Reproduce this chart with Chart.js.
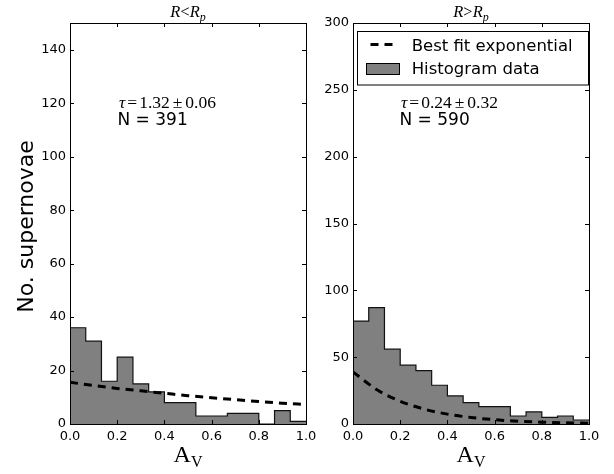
<!DOCTYPE html>
<html>
<head>
<meta charset="utf-8">
<script src="https://cdn.jsdelivr.net/npm/chart.js@4.4.1/dist/chart.umd.min.js"></script>
<style>
  body { margin: 0; background: #fff; }
  #wrap { position: relative; width: 614px; height: 474px; overflow: hidden; }
  canvas { position: absolute; top: 0; }
  #left { left: 0; }
  #right { left: 300px; }
</style>
</head>
<body>
<div id="wrap">
  <canvas id="left" width="330" height="474"></canvas>
  <canvas id="right" width="314" height="474"></canvas>
</div>
<script>
'use strict';
// histogram bins (A_V), 15 bins between 0 and 1
const binEdges = [0, 0.0667, 0.1333, 0.2, 0.2667, 0.3333, 0.4, 0.4667, 0.5333, 0.6, 0.6667, 0.7333, 0.8, 0.8667, 0.9333, 1.0];
const countsInner = [36, 31, 16, 25, 15, 12, 8, 8, 3, 3, 4, 4, 0, 5, 1];
const countsOuter = [77, 87, 56, 44, 40, 29, 21, 16, 13, 13, 6, 9, 5, 6, 3];

// best fit exponential
const fitX = [0, 0.1, 0.2, 0.3, 0.4, 0.5, 0.6, 0.7, 0.8, 0.9, 1.0];
const fitInner = [15.6, 14.4, 13.3, 12.4, 11.5, 10.6, 9.8, 9.1, 8.4, 7.8, 7.3];
const fitOuter = [39, 25.8, 17, 11.2, 7.4, 4.9, 3.2, 2.1, 1.4, 0.9, 0.6];

const xTicks = [0, 0.2, 0.4, 0.6, 0.8, 1.0];
const yTicksInner = [0, 20, 40, 60, 80, 100, 120, 140];
const yTicksOuter = [0, 50, 100, 150, 200, 250, 300];

const SANS = '"DejaVu Sans", sans-serif';
const SERIF = '"Liberation Serif", serif';
const GRAY = '#808080';

function stepPoints(counts) {
  let pts = [];
  for (let i = 0; i < counts.length; i++) {
    pts.push({x: binEdges[i], y: counts[i]});
  }
  pts.push({x: binEdges[binEdges.length - 1], y: counts[counts.length - 1]});
  return pts;
}

// draws a row of text pieces, each with its own font and vertical shift
function drawRuns(ctx, x, y, runs, align) {
  let total = 0;
  for (let r of runs) {
    ctx.font = r.font;
    r.w = ctx.measureText(r.t).width;
    total += r.w + (r.gap || 0);
  }
  let cx = align === 'center' ? x - total / 2 : x;
  ctx.textAlign = 'left';
  ctx.textBaseline = 'alphabetic';
  for (let r of runs) {
    cx += (r.gap || 0);
    ctx.font = r.font;
    ctx.fillText(r.t, cx, y + (r.dy || 0));
    cx += r.w;
  }
}

function decorPlugin(cfg) {
  return {
    id: 'decor',
    afterDraw(chart) {
      const ctx = chart.ctx;
      const a = chart.chartArea;
      const xs = chart.scales.x;
      const ys = chart.scales.y;
      ctx.save();
      ctx.strokeStyle = '#000';
      ctx.fillStyle = '#000';
      ctx.lineWidth = 1;
      ctx.beginPath();
      for (let t of xs.ticks) {
        let px = Math.round(xs.getPixelForValue(t.value)) + 0.5;
        ctx.moveTo(px, a.bottom); ctx.lineTo(px, a.bottom - 4);
        ctx.moveTo(px, a.top); ctx.lineTo(px, a.top + 4);
      }
      for (let t of ys.ticks) {
        let py = Math.round(ys.getPixelForValue(t.value)) + 0.5;
        ctx.moveTo(a.left, py); ctx.lineTo(a.left + 4, py);
        ctx.moveTo(a.right, py); ctx.lineTo(a.right - 4, py);
      }
      ctx.stroke();
      ctx.strokeRect(Math.round(a.left) + 0.5, Math.round(a.top) + 0.5,
        Math.round(a.right - a.left), Math.round(a.bottom - a.top));

      const mid = (a.left + a.right) / 2;
      // panel title
      drawRuns(ctx, mid, 17, [
        {t: 'R', font: 'italic 16.5px ' + SERIF},
        {t: cfg.rel, font: '16.5px ' + SERIF},
        {t: 'R', font: 'italic 16.5px ' + SERIF},
        {t: 'p', font: 'italic 12px ' + SERIF, dy: 3.5}
      ], 'center');
      // x axis label
      drawRuns(ctx, mid, 462, [
        {t: 'A', font: '24px ' + SERIF},
        {t: 'V', font: '16px ' + SERIF, dy: 5}
      ], 'center');
      // fit annotation
      drawRuns(ctx, cfg.textX, 107.5, [
        {t: 'τ', font: 'italic 17.5px ' + SERIF},
        {t: '=', font: '17.5px ' + SERIF, gap: 2},
        {t: cfg.tau, font: '17.5px ' + SERIF, gap: 2},
        {t: '±', font: '17.5px ' + SERIF, gap: 3},
        {t: cfg.err, font: '17.5px ' + SERIF, gap: 3}
      ]);
      ctx.font = '17px ' + SANS;
      ctx.fillText(cfg.n, cfg.textX - 1.5, 124.5);

      if (cfg.yLabel) {
        ctx.save();
        ctx.translate(33, 226.5);
        ctx.rotate(-Math.PI / 2);
        ctx.font = '22px ' + SANS;
        ctx.textAlign = 'center';
        ctx.fillText(cfg.yLabel, 0, 0);
        ctx.restore();
      }

      if (cfg.legend) {
        ctx.fillStyle = '#fff';
        ctx.fillRect(57.5, 31.5, 231, 53.5);
        ctx.strokeRect(57.5, 31.5, 231, 53.5);
        ctx.lineWidth = 3;
        ctx.setLineDash([8, 6]);
        ctx.beginPath();
        ctx.moveTo(70.5, 44.5); ctx.lineTo(92.5, 44.5);
        ctx.stroke();
        ctx.setLineDash([]);
        ctx.lineWidth = 1;
        ctx.fillStyle = GRAY;
        ctx.fillRect(66.5, 63.5, 33, 11);
        ctx.strokeRect(66.5, 63.5, 33, 11);
        ctx.fillStyle = '#000';
        ctx.font = '16.5px ' + SANS;
        ctx.textAlign = 'left';
        ctx.fillText('Best fit exponential', 111.7, 50.7);
        ctx.fillText('Histogram data', 111.7, 74.3);
      }
      ctx.restore();
    }
  };
}

function makePanel(canvasId, counts, fit, yMax, yTicks, yWidth, padRight, cfg) {
  const tickFont = {family: SANS, size: 13};
  return new Chart(document.getElementById(canvasId), {
    type: 'line',
    data: {
      datasets: [
        {
          data: fitX.map((x, i) => ({x: x, y: fit[i]})),
          borderColor: '#000',
          borderWidth: 3,
          borderDash: [8, 6],
          pointRadius: 0,
          cubicInterpolationMode: 'monotone',
          fill: false,
          order: 0
        },
        {
          data: stepPoints(counts),
          stepped: 'before',
          borderColor: '#111',
          borderWidth: 1.2,
          backgroundColor: GRAY,
          pointRadius: 0,
          fill: 'origin',
          order: 1
        }
      ]
    },
    options: {
      responsive: false,
      animation: false,
      devicePixelRatio: 1,
      layout: {padding: {top: 23, left: 0, right: padRight, bottom: 0}},
      plugins: {legend: {display: false}, tooltip: {enabled: false}},
      scales: {
        x: {
          type: 'linear', min: 0, max: 1,
          grid: {display: false, drawTicks: false}, border: {display: false},
          ticks: {font: tickFont, color: '#000', padding: 5, autoSkip: false, maxRotation: 0,
            callback: v => v.toFixed(1)},
          afterBuildTicks: s => { s.ticks = xTicks.map(v => ({value: v})); },
          afterFit: s => { s.height = 50; }
        },
        y: {
          type: 'linear', min: 0, max: yMax,
          grid: {display: false, drawTicks: false}, border: {display: false},
          ticks: {font: tickFont, color: '#000', padding: 4, autoSkip: false},
          afterBuildTicks: s => { s.ticks = yTicks.map(v => ({value: v})); },
          afterFit: s => { s.width = yWidth; }
        }
      }
    },
    plugins: [decorPlugin(cfg)]
  });
}

makePanel('left', countsInner, fitInner, 150, yTicksInner, 70, 24, {
  rel: '<', tau: '1.32', err: '0.06', n: 'N = 391', textX: 119, yLabel: 'No. supernovae'
});
makePanel('right', countsOuter, fitOuter, 300, yTicksOuter, 53, 25, {
  rel: '>', tau: '0.24', err: '0.32', n: 'N = 590', textX: 101, legend: true
});
</script>
</body>
</html>
